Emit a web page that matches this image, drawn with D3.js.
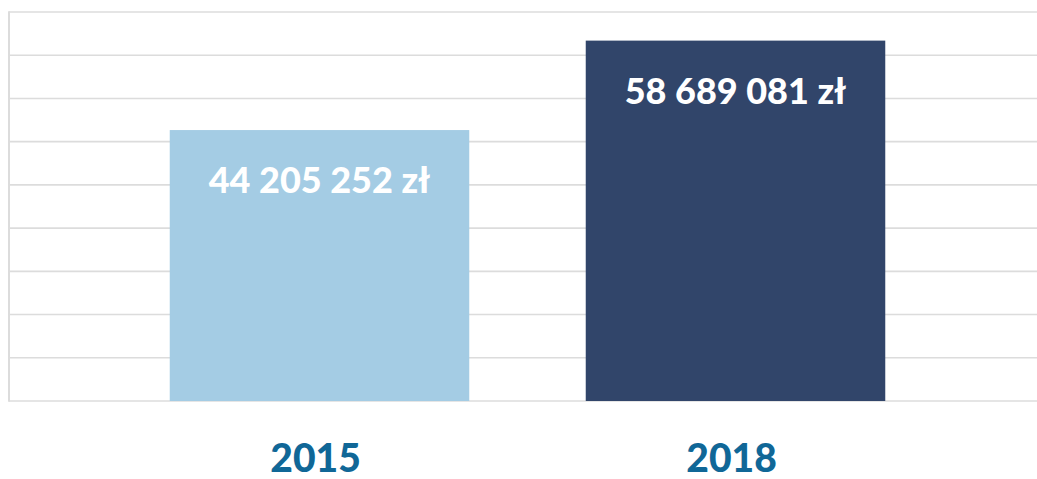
<!DOCTYPE html>
<html>
<head>
<meta charset="utf-8">
<script src="https://cdn.jsdelivr.net/npm/d3@7"></script>
<style>
  body { margin: 0; background: #fff; }
  svg { display: block; }
</style>
</head>
<body>
<svg id="board"></svg>
<script>
let years = ['2015', '2018']
let values = [44205252, 58689081]
let labels = ['44 205 252 zł', '58 689 081 zł']
let barColors = ['#a4cce4', '#31456a']
let tickValues = [0, 7e6, 14e6, 21e6, 28e6, 35e6, 42e6, 49e6, 56e6, 63e6]

let width = 1037
let height = 479

let board = d3.select('#board')
              .attr('width', width)
              .attr('height', height)

let xScale = d3.scaleBand()
               .domain(years)
               .range([111.5, 943.5])
               .paddingInner(0.28)
               .paddingOuter(0.14)

let yScale = d3.scaleLinear()
               .domain([0, 63e6])
               .range([401, 12])

// gridlines
board.append('g')
     .selectAll('line')
     .data(tickValues)
     .enter()
     .append('line')
     .attr('x1', 9)
     .attr('x2', width)
     .attr('y1', (d) => yScale(d))
     .attr('y2', (d) => yScale(d))
     .attr('stroke', '#dcdcdc')
     .attr('stroke-width', 1.6)

// left axis line
board.append('line')
     .attr('x1', 9)
     .attr('x2', 9)
     .attr('y1', yScale(63e6) - 0.8)
     .attr('y2', yScale(0) + 0.8)
     .attr('stroke', '#dcdcdc')
     .attr('stroke-width', 2)

let data = years.map((y, i) => ({ year: y, value: values[i], label: labels[i], color: barColors[i] }))

board.selectAll('rect.bar')
     .data(data)
     .enter()
     .append('rect')
     .attr('class', 'bar')
     .attr('x', (d) => xScale(d.year))
     .attr('width', xScale.bandwidth())
     .attr('y', (d) => yScale(d.value) + 2)
     .attr('height', (d) => yScale(0) - yScale(d.value) - 2)
     .attr('fill', (d) => d.color)

board.selectAll('text.val')
     .data(data)
     .enter()
     .append('text')
     .attr('class', 'val')
     .attr('x', (d) => xScale(d.year) + xScale.bandwidth() / 2)
     .attr('y', (d) => yScale(d.value) + 65)
     .attr('text-anchor', 'middle')
     .attr('fill', '#ffffff')
     .style('font-family', 'Lato, "Open Sans", sans-serif')
     .style('font-weight', 900)
     .style('font-size', '36px')
     .text((d) => d.label)

let xAxis = d3.axisBottom(xScale).tickSize(0).tickPadding(0)
board.append('g')
     .attr('transform', 'translate(-4,' + 472 + ')')
     .call(xAxis)
     .call((g) => g.select('.domain').remove())
     .selectAll('text')
     .attr('dy', 0)
     .attr('fill', '#106797')
     .style('font-family', 'Lato, "Open Sans", sans-serif')
     .style('font-weight', 900)
     .style('font-size', '39px')
</script>
</body>
</html>
